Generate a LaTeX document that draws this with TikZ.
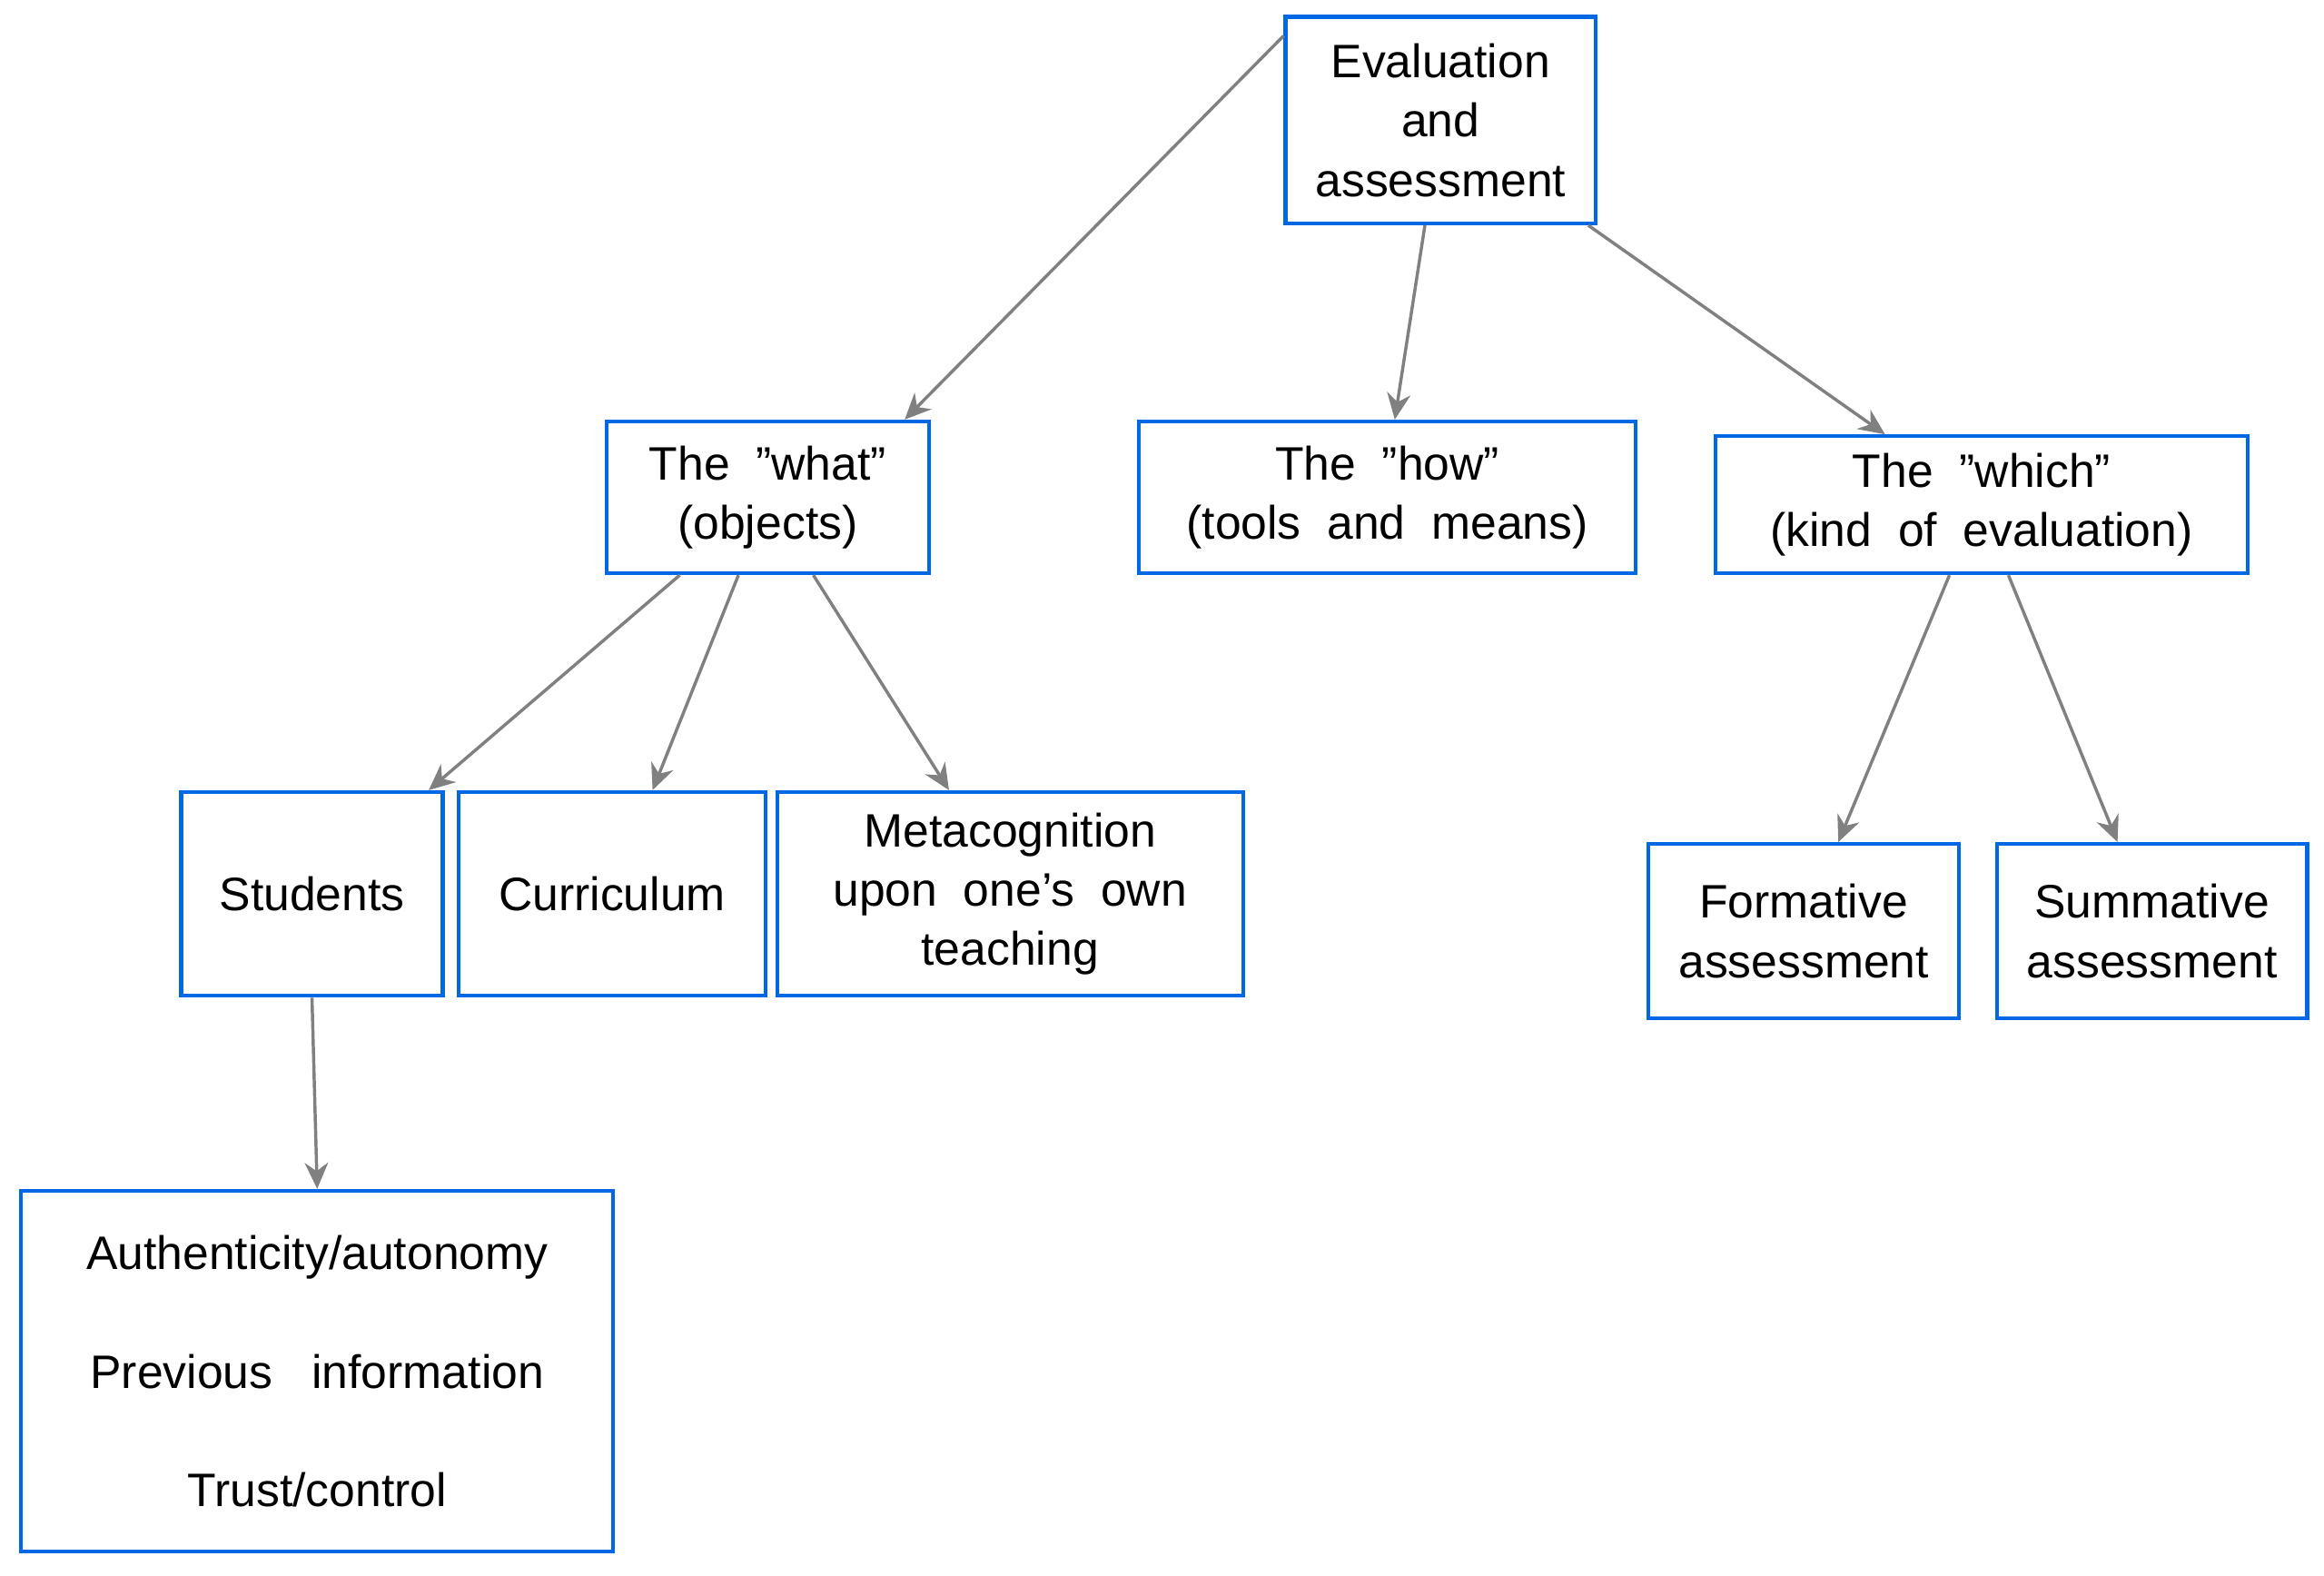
\documentclass[tikz,border=0pt]{standalone}
\usepackage{fontspec}
\setmainfont{Liberation Sans}
\usetikzlibrary{calc,arrows.meta}
\begin{document}
\begin{tikzpicture}[x=0.01cm,y=-0.01cm,
  box/.style={draw=blue!55!cyan!90!black,line width=0.75pt,rectangle,inner sep=0pt,align=center,
    font=\fontsize{9pt}{11.4pt}\selectfont},
  arr/.style={draw=gray,line width=0.6pt,-{Stealth[length=5pt,width=4.5pt]}}]
\useasboundingbox (0,0) rectangle (1568,1063);
\newcommand{\bx}[6]{\node[box,minimum width=#4*0.01cm-0.75pt,minimum height=#5*0.01cm-0.75pt] (#1) at (#2,#3) {#6};}
\bx{ev}{972}{81}{212}{142}{Evaluation\\and\\assessment}
\bx{what}{518}{335.5}{220}{105}{The~~"what"\\(objects)}
\bx{how}{936}{335.5}{338}{105}{The~~"how"\\(tools~~and~~means)}
\bx{which}{1337}{340.5}{362}{95}{The~~"which"\\(kind~~of~~evaluation)}
\bx{stu}{210.5}{603}{179}{140}{Students}
\bx{cur}{413}{603}{210}{140}{Curriculum}
\bx{meta}{681.5}{603}{317}{140}{Metacognition\\upon~~one’s~~own\\teaching}
\bx{form}{1217}{628}{212}{120}{Formative\\assessment}
\bx{sum}{1452}{628}{212}{120}{Summative\\assessment}
\node[box,minimum width=4.02cm-0.75pt,minimum height=2.46cm-0.75pt,font=\fontsize{9pt}{22.8pt}\selectfont] (auth) at (214,925) {Authenticity/autonomy\\Previous~~~information\\Trust/control};
\draw[arr] ($(ev.south west)!0.9!(ev.north west)$) -- ($(what.north west)!0.92!(what.north east)$);
\draw[arr] ($(ev.south west)!0.45!(ev.south east)$) -- ($(how.north west)!0.515!(how.north east)$);
\draw[arr] ($(ev.south west)!0.97!(ev.south east)$) -- ($(which.north west)!0.32!(which.north east)$);
\draw[arr] ($(what.south west)!0.23!(what.south east)$) -- ($(stu.north west)!0.94!(stu.north east)$);
\draw[arr] ($(what.south west)!0.41!(what.south east)$) -- ($(cur.north west)!0.63!(cur.north east)$);
\draw[arr] ($(what.south west)!0.64!(what.south east)$) -- ($(meta.north west)!0.37!(meta.north east)$);
\draw[arr] ($(which.south west)!0.44!(which.south east)$) -- ($(form.north west)!0.61!(form.north east)$);
\draw[arr] ($(which.south west)!0.55!(which.south east)$) -- ($(sum.north west)!0.39!(sum.north east)$);
\draw[arr] (stu.south) -- (auth.north);
\end{tikzpicture}
\end{document}
